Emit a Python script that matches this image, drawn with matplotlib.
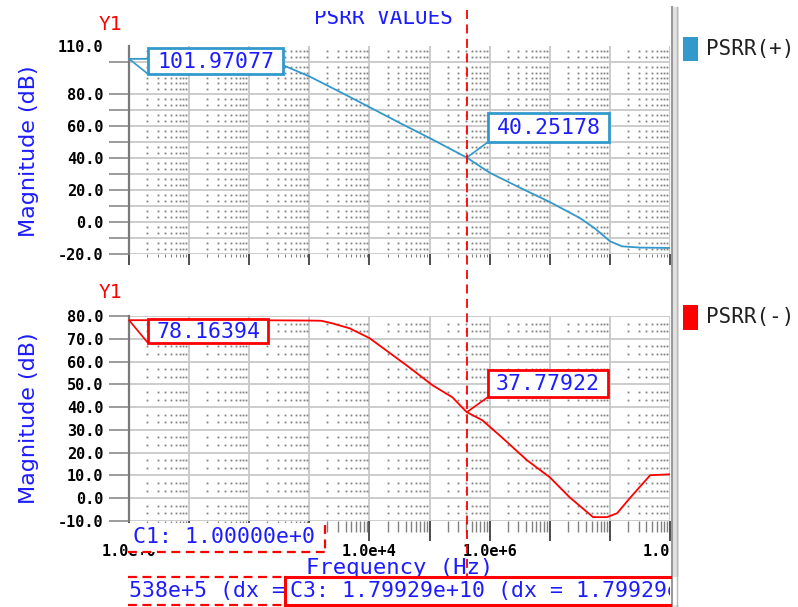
import matplotlib
matplotlib.use("Agg")
import matplotlib.pyplot as plt
from matplotlib.patches import Rectangle, ConnectionPatch
from matplotlib.lines import Line2D
from matplotlib.ticker import FixedLocator, FixedFormatter, NullFormatter
from matplotlib.transforms import Bbox, blended_transform_factory
import numpy as np

# ---------------- data ----------------
freq_plus = [1, 10, 100, 316.2, 1000, 3162, 1e4, 3.162e4, 1e5, 4.16538e5,
             1e6, 3.162e6, 1e7, 3.162e7, 5.62e7, 1e8, 1.585e8, 3.162e8, 1e9]
psrr_plus = [101.97077, 101.95, 101.5, 99.0, 91.0, 81.5, 71.8, 62.0, 52.5, 40.25178,
             30.8, 21.5, 12.5, 2.5, -4.0, -12.0, -15.2, -16.0, -16.2]

freq_minus = [1, 100, 1000, 1585, 2400, 4680, 1e4, 1.9e4, 4.17e4, 1.12e5, 2.4e5,
              4.16538e5, 7.6e5, 1.66e6, 4.17e6, 1e7, 2.14e7, 5.25e7, 8.9e7, 1.32e8,
              2.14e8, 4.68e8, 1e9]
psrr_minus = [78.16394, 78.16, 78.0, 77.9, 76.8, 74.6, 70.3, 64.9, 58.3, 49.6, 44.3,
              37.77922, 34.2, 26.3, 16.7, 9.2, 0.4, -8.3, -8.3, -6.6,
              0.0, 10.1, 10.5]

start_freq = 1
cursor_freq = 4.16538e5
plus_start_label = "101.97077"
plus_cursor_label = "40.25178"
minus_start_label = "78.16394"
minus_cursor_label = "37.77922"
c1_text = "C1: 1.00000e+0"
c2_text = "538e+5 (dx ="
c3_text = "C3: 1.79929e+10 (dx = 1.79929e+10)"

decades = [1, 1e1, 1e2, 1e3, 1e4, 1e5, 1e6, 1e7, 1e8, 1e9]
decade_labels = ["1.0e+0", "", "", "", "1.0e+4", "", "1.0e+6", "", "", "1.0e+9"]

plus_yticks = [-20, -10, 0, 10, 20, 30, 40, 50, 60, 70, 80, 100, 110]
plus_ylabels = ["-20.0", "", "0.0", "", "20.0", "", "40.0", "", "60.0", "", "80.0", "", "110.0"]
minus_yticks = [-10, 0, 10, 20, 30, 40, 50, 60, 70, 80]
minus_ylabels = ["-10.0", "0.0", "10.0", "20.0", "30.0", "40.0", "50.0", "60.0", "70.0", "80.0"]

# ---------------- styling ----------------
W, H = 798, 607
MONO = "DejaVu Sans Mono"
BLUE_TXT = "#1c1cff"
PLUS_C = "#3399cc"
RED = "#ff0000"
GRID_C = "#c8c8c8"
DOT_C = "#808080"

fig = plt.figure(figsize=(W / 100, H / 100), dpi=100, facecolor="white")


def fx(x):
    return x / W


def fy(y):
    return 1 - y / H


def frect(x0, y0, x1, y1, **kw):
    r = Rectangle((fx(x0), fy(y1)), (x1 - x0) / W, (y1 - y0) / H,
                  transform=fig.transFigure, **kw)
    fig.add_artist(r)
    return r


def fline(x0, y0, x1, y1, **kw):
    ln = Line2D([fx(x0), fx(x1)], [fy(y0), fy(y1)], transform=fig.transFigure, **kw)
    fig.add_artist(ln)
    return ln


def setup_axes(ax, ylim, yticks, ylabels, skip_grid, long_xticks):
    ax.set_xscale("log")
    ax.set_xlim(1, 1e9)
    ax.set_ylim(*ylim)
    for s in ("top", "right", "bottom"):
        ax.spines[s].set_visible(False)
    ax.spines["left"].set_color("#7a7a7a")
    ax.spines["left"].set_linewidth(1.6)
    # solid grid
    for d in decades[1:]:
        ax.axvline(d, color=GRID_C, lw=1.3, zorder=1)
    for v in yticks:
        if v not in skip_grid:
            ax.axhline(v, color=GRID_C, lw=1.3, zorder=1)
    # dotted minor grid
    minor_x = [k * d for d in decades[:-1] for k in range(2, 10)]
    major_set = set(yticks)
    rows = [r for r in np.arange(ylim[0], ylim[1], 10 / 3.0)
            if min(abs(r - m) for m in major_set) > 0.5]
    X, Y = np.meshgrid(minor_x, rows)
    ax.plot(X.ravel(), Y.ravel(), linestyle="none", marker="s", ms=1.3,
            mew=0, color=DOT_C, zorder=1)
    # y ticks
    ax.yaxis.set_major_locator(FixedLocator(yticks))
    ax.yaxis.set_major_formatter(FixedFormatter(ylabels))
    ax.tick_params(axis="y", which="major", length=14.4, width=1.2, color="#8a8a8a",
                   pad=4, labelsize=11)
    for lbl in ax.get_yticklabels():
        lbl.set_family(MONO)
        lbl.set_weight("bold")
    ax.tick_params(axis="y", which="minor", left=False)
    # x ticks
    ax.xaxis.set_major_locator(FixedLocator(decades))
    ax.xaxis.set_minor_locator(FixedLocator(minor_x))
    ax.xaxis.set_minor_formatter(NullFormatter())
    if long_xticks:
        ax.xaxis.set_major_formatter(FixedFormatter(decade_labels))
        ax.tick_params(axis="x", which="major", length=14.4, width=1.3, color="#404040",
                       labelsize=11, pad=2)
        ax.tick_params(axis="x", which="minor", length=8, width=1.0, color="#808080")
    else:
        ax.xaxis.set_major_formatter(NullFormatter())
        ax.tick_params(axis="x", which="major", length=8, width=1.3, color="#404040")
        ax.tick_params(axis="x", which="minor", length=2.5, width=0.8, color="#808080")


ax1 = fig.add_axes([fx(129), fy(254), (670 - 129) / W, (254 - 46) / H])
ax2 = fig.add_axes([fx(129), fy(521), (670 - 129) / W, (521 - 316) / H])

setup_axes(ax1, (-20, 110), plus_yticks, plus_ylabels, skip_grid={110}, long_xticks=False)
setup_axes(ax2, (-10, 80), minus_yticks, minus_ylabels, skip_grid=set(), long_xticks=True)

# the 110 label sits at the top edge without a tick mark
ax1.yaxis.get_major_ticks()[-1].tick1line.set_visible(False)

# x tick labels are cut at the right edge of the plot region
clip = Bbox.from_extents(0, 0, 670, H)
for t in ax2.xaxis.get_major_ticks():
    t.label1.set_family(MONO)
    t.label1.set_weight("bold")
    t.label1.set_clip_on(True)
    t.label1.set_clip_box(clip)

# curves
ax1.plot(freq_plus, psrr_plus, color=PLUS_C, lw=1.3, zorder=3)
ax2.plot(freq_minus, psrr_minus, color=RED, lw=1.3, zorder=3)

# y axis titles and Y1 markers
for yc in (151, 418):
    fig.text(fx(29), fy(yc), "Magnitude (dB)", rotation=90, color=BLUE_TXT,
             fontsize=16, family="DejaVu Sans", ha="center", va="center")
fig.text(fx(110), fy(25), "Y1", color=RED, fontsize=14, family=MONO, ha="center", va="center")
fig.text(fx(110), fy(292), "Y1", color=RED, fontsize=14, family=MONO, ha="center", va="center")

# title, its upper part cut off
title = fig.text(fx(383), fy(18), "PSRR VALUES", color=BLUE_TXT, fontsize=15,
                 family=MONO, ha="center", va="center")
title.set_clip_on(True)
title.set_clip_box(Bbox.from_extents(0, 0, W, H - 11))

# value boxes with leader lines
def value_box(ax, xd, yd, text, box, color):
    x0, y0, x1, y1 = box
    frect(x0, y0, x1, y1, facecolor="white", edgecolor=color, lw=2, zorder=4)
    fig.text(fx((x0 + x1) / 2), fy((y0 + y1) / 2 + 1), text, color=BLUE_TXT,
             fontsize=15.5, family=MONO, ha="center", va="center", zorder=5)
    cp = ConnectionPatch(xyA=(xd, yd), coordsA=ax.transData,
                         xyB=(x0, H - y1), coordsB="figure pixels",
                         color=color, lw=1.2, zorder=4)
    fig.add_artist(cp)


value_box(ax1, start_freq, psrr_plus[0], plus_start_label, (148, 48, 283, 74), PLUS_C)
value_box(ax1, cursor_freq, psrr_plus[freq_plus.index(cursor_freq)], plus_cursor_label,
          (488, 113, 609, 142), PLUS_C)
value_box(ax2, start_freq, psrr_minus[0], minus_start_label, (148, 319, 268, 343), RED)
value_box(ax2, cursor_freq, psrr_minus[freq_minus.index(cursor_freq)], minus_cursor_label,
          (488, 370, 608, 397), RED)

# x axis title
fig.text(fx(400), fy(568), "Frequency (Hz)", color=BLUE_TXT, fontsize=16, family=MONO,
         ha="center", va="center", zorder=2)

# cursor readouts
frect(128, 523, 325, 552, facecolor="white", edgecolor="none", zorder=3)
fline(128, 552, 325, 552, color=RED, lw=1.6, linestyle=(0, (4, 2.5)), zorder=4)
fline(325, 525, 325, 552, color=RED, lw=1.6, linestyle=(0, (4, 2.5)), zorder=4)
fig.text(fx(133), fy(537), c1_text, color=BLUE_TXT, fontsize=15.5, family=MONO,
         ha="left", va="center", zorder=5)

frect(128, 577, 285, 605, facecolor="white", edgecolor="none", zorder=3)
fline(128, 577, 285, 577, color=RED, lw=1.6, linestyle=(0, (4, 2.5)), zorder=4)
fline(128, 605, 285, 605, color=RED, lw=1.6, linestyle=(0, (4, 2.5)), zorder=4)
fig.text(fx(129), fy(591), c2_text, color=BLUE_TXT, fontsize=15.5, family=MONO,
         ha="left", va="center", zorder=5)

frect(285, 577, 690, 605, facecolor="white", edgecolor="none", zorder=3)
fline(285, 577, 670, 577, color=RED, lw=2.2, zorder=4)
fline(285, 605, 670, 605, color=RED, lw=2.2, zorder=4)
fline(285, 577, 285, 605, color=RED, lw=2.2, zorder=4)
c3 = fig.text(fx(290), fy(591), c3_text, color=BLUE_TXT, fontsize=15.5, family=MONO,
              ha="left", va="center", zorder=5)
c3.set_clip_on(True)
c3.set_clip_box(Bbox.from_extents(0, 0, 670, H))

# cursor line through both panels
cur_tr = blended_transform_factory(ax1.transData, fig.transFigure)
fig.add_artist(Line2D([cursor_freq, cursor_freq], [fy(10), fy(577)], transform=cur_tr,
                      color=RED, lw=1.3, linestyle=(0, (5, 3)), zorder=6))

# separator and legend column
frect(671, 7, 679, H, facecolor="#e2e2e2", edgecolor="none", zorder=2)
fline(672, 7, 672, H, color="#9a9a9a", lw=1.5, zorder=3)
fline(677, 7, 677, H, color="#b8b8b8", lw=1.0, zorder=3)

frect(683, 37, 698, 61, facecolor=PLUS_C, edgecolor="none", zorder=3)
fig.text(fx(706), fy(49), "PSRR(+)", color="#202020", fontsize=15, family=MONO,
         ha="left", va="center")
frect(683, 305, 698, 330, facecolor=RED, edgecolor="none", zorder=3)
fig.text(fx(706), fy(317), "PSRR(-)", color="#202020", fontsize=15, family=MONO,
         ha="left", va="center")

fig.savefig("out.png", dpi=100, facecolor="white")
